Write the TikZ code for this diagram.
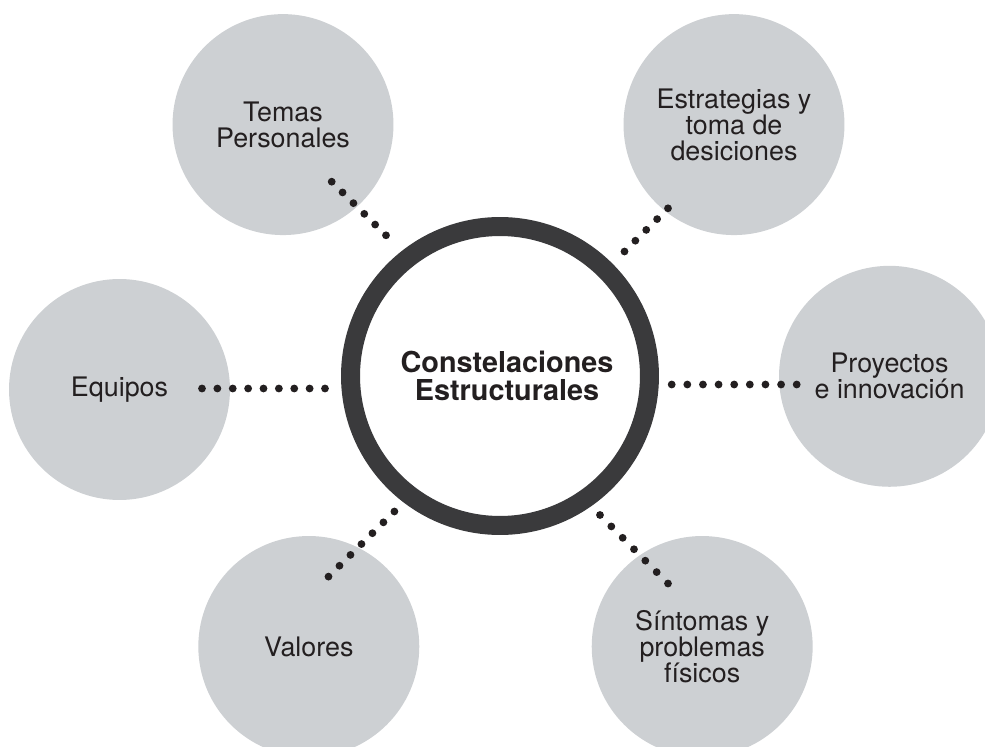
\documentclass[tikz,border=0pt]{standalone}
\usepackage{fontspec}
\setmainfont{TeX Gyre Heros}
\usepackage{tikz}
\usetikzlibrary{calc}

\definecolor{bubblegray}{RGB}{205,208,211}
\definecolor{ringgray}{RGB}{58,58,60}
\definecolor{inkgray}{RGB}{35,31,32}

\tikzset{
    bubble/.style={circle, fill=bubblegray, minimum size=4.42cm, inner sep=0pt, align=center, text=inkgray, font=\fontsize{15.3}{14.8}\selectfont},
    hub/.style={circle, draw=ringgray, line width=0.38cm, fill=white, minimum size=5.98cm, inner sep=0pt, align=center, text=inkgray, font=\bfseries\fontsize{16.4}{16}\selectfont},
    dot/.style={fill=inkgray}
}

% row of dots from #1 to #2, #3 gaps
\newcommand{\dotrow}[3]{\foreach \i in {0,...,#3} \fill[dot] ($(#1)!\i/#3!(#2)$) circle (0.078cm);}

\begin{document}
\begin{tikzpicture}[x=0.02cm, y=-0.02cm]
        \useasboundingbox (0,0) rectangle (985,747);
        \clip (0,0) rectangle (985,747);

        \node[bubble] (temas) at (283,124.6) {Temas\\Personales};
        \node[bubble] (estrategias) at (734,124.6) {Estrategias y\\toma de\\desiciones};
        \node[bubble] (equipos) at (119.5,389.5) {Equipos};
        \node[bubble] (proyectos) at (889.5,376.3) {Proyectos\\e innovación};
        \node[bubble] (valores) at (308.8,646.5) {Valores};
        \node[bubble] (sintomas) at (702.2,646.5) {Síntomas y\\problemas\\físicos};

        \node[hub] (centro) at (500,376) {\hspace*{8pt}Constelaciones\\\hspace*{8pt}Estructurales};

        \coordinate (t1) at (386,235.3);   \coordinate (t2) at (331.7,181.7);
        \coordinate (s1) at (624.5,251.5); \coordinate (s2) at (668,208.3);
        \coordinate (e1) at (325,388.5);   \coordinate (e2) at (202,388.5);
        \coordinate (p1) at (671.7,384.5); \coordinate (p2) at (796.7,384.5);
        \coordinate (v1) at (394.4,511.5); \coordinate (v2) at (328.5,576.6);
        \coordinate (f1) at (600,515);     \coordinate (f2) at (668,583.5);

        \dotrow{t1}{t2}{5}
        \dotrow{s1}{s2}{4}
        \dotrow{e1}{e2}{8}
        \dotrow{p1}{p2}{8}
        \dotrow{v1}{v2}{6}
        \dotrow{f1}{f2}{6}
    \end{tikzpicture}
\end{document}
